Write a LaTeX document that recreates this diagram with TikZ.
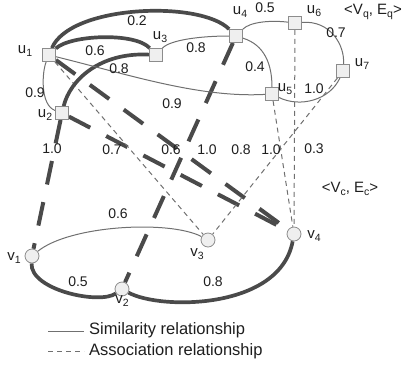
\documentclass[tikz,border=0pt]{standalone}
\usepackage{fontspec}
\setmainfont{Liberation Sans}
\definecolor{thk}{HTML}{4A4A4A}
\definecolor{thn}{HTML}{707070}
\definecolor{txt}{HTML}{1E1E1E}
\definecolor{nodeln}{HTML}{8C8C8C}
\definecolor{nodefl}{HTML}{EFEFEF}
\newcommand{\mysub}[1]{\raisebox{-0.4ex}{\fontsize{10.5}{11}\selectfont #1}}
\pgfdeclarelayer{edges}
\pgfsetlayers{edges,main}
\tikzset{
  sq/.style={draw=nodeln, fill=nodefl, minimum size=13pt, inner sep=0pt, line width=0.8pt},
  cir/.style={circle, draw=nodeln, fill=nodefl, minimum size=14pt, inner sep=0pt, line width=0.8pt},
  simthick/.style={draw=thk, line width=3.7pt},
  simthin/.style={draw=thn, line width=1pt},
  asthick/.style={draw=thk, line width=4pt, dash pattern=on 24pt off 18pt},
  asthin/.style={draw=thn, line width=1pt, dash pattern=on 5pt off 4pt},
  num/.style={font=\fontsize{14}{15}\selectfont, text=txt, inner sep=0pt},
  lab/.style={font=\fontsize{15}{16}\selectfont, text=txt, inner sep=0pt},
  leg/.style={font=\fontsize{16.5}{17}\selectfont, text=txt, inner sep=0pt, anchor=west}
}
\begin{document}
\begin{tikzpicture}[x=1pt, y=-1pt]
\useasboundingbox (0,0) rectangle (406,365);
% query graph nodes
\node[sq] (u1) at (49,55) {};
\node[sq] (u2) at (62,113) {};
\node[sq] (u3) at (156,55) {};
\node[sq] (u4) at (236,36) {};
\node[sq] (u5) at (272,94) {};
\node[sq] (u6) at (295,23) {};
\node[sq] (u7) at (343,71) {};
% candidate graph nodes
\node[cir] (v1) at (32,256) {};
\node[cir] (v2) at (122,289) {};
\node[cir] (v3) at (208,240) {};
\node[cir] (v4) at (294,234) {};

\begin{pgfonlayer}{edges}
% association edges
\draw[asthick] (u2) -- (v1);
\draw[asthick] (u1) -- (v4);
\draw[asthick] (u2) -- (v4);
\draw[asthick] (u4) -- (v2);
\draw[asthin] (u1) -- (v3);
\draw[asthin] (u7) -- (v3);
\draw[asthin] (u5) -- (v4);
\draw[asthin] (u6) -- (v4);
% similarity edges in query graph
\draw[simthick] (u1) .. controls (70,5) and (200,0) .. (u4);
\draw[simthick] (u1) .. controls (70,35) and (135,32) .. (u3);
\draw[simthick] (u2) .. controls (70,80) and (100,52) .. (u3);
\draw[simthin] (u1) .. controls (42,72) and (40,105) .. (u2);
\draw[simthin] (u1) .. controls (130,75) and (200,98) .. (u5);
\draw[simthin] (u3) .. controls (170,40) and (200,36) .. (u4);
\draw[simthin] (u4) .. controls (250,22) and (270,20) .. (u6);
\draw[simthin] (u6) .. controls (330,20) and (345,45) .. (u7);
\draw[simthin] (u4) .. controls (265,45) and (272,65) .. (u5);
\draw[simthin] (u5) .. controls (300,108) and (330,100) .. (u7);
% similarity edges in candidate graph
\draw[simthin] (v1) .. controls (70,225) and (170,220) .. (v3);
\draw[simthick] (v1) .. controls (30,290) and (100,305) .. (v2);
\draw[simthick] (v2) .. controls (160,310) and (280,310) .. (v4);
\end{pgfonlayer}

% node labels
\node[lab] (lu1) at (25,51) {u\mysub{1}};
\node[lab] (lu2) at (45,115) {u\mysub{2}};
\node[lab] (lu3) at (160,37) {u\mysub{3}};
\node[lab] (lu4) at (240,12) {u\mysub{4}};
\node[lab] (lu5) at (285,89) {u\mysub{5}};
\node[lab] (lu6) at (314,11) {u\mysub{6}};
\node[lab] (lu7) at (362,64) {u\mysub{7}};
\node[lab] (lv1) at (14,258) {v\mysub{1}};
\node[lab] (lv2) at (122,301) {v\mysub{2}};
\node[lab] (lv3) at (197,254) {v\mysub{3}};
\node[lab] (lv4) at (314,236) {v\mysub{4}};
\node[lab] (gq) at (373,12) {<V\mysub{q}, E\mysub{q}>};
\node[lab] (gc) at (350,189) {<V\mysub{c}, E\mysub{c}>};

% weights
\node[num] (w1) at (137,21) {0.2};
\node[num] (w2) at (95,51) {0.6};
\node[num] (w3) at (119,69) {0.8};
\node[num] (w4) at (35,93) {0.9};
\node[num] (w5) at (172,104) {0.9};
\node[num] (w6) at (196,48) {0.8};
\node[num] (w7) at (265,8) {0.5};
\node[num] (w8) at (336,33) {0.7};
\node[num] (w9) at (255,67) {0.4};
\node[num] (w10) at (314,89) {1.0};
\node[num] (a1) at (52,149) {1.0};
\node[num] (a2) at (112,150) {0.7};
\node[num] (a3) at (171,150) {0.6};
\node[num] (a4) at (207,150) {1.0};
\node[num] (a5) at (241,150) {0.8};
\node[num] (a6) at (271,150) {1.0};
\node[num] (a7) at (314,149) {0.3};
\node[num] (c1) at (118,214) {0.6};
\node[num] (c2) at (78,282) {0.5};
\node[num] (c3) at (213,282) {0.8};

% legend
\coordinate (ls1) at (48,331);
\coordinate (ls2) at (84,331);
\coordinate (la1) at (48,351);
\coordinate (la2) at (84,351);
\draw[simthin] (ls1) -- (ls2);
\draw[asthin] (la1) -- (la2);
\node[leg] (lt1) at (89,330) {Similarity relationship};
\node[leg] (lt2) at (89,351) {Association relationship};
\end{tikzpicture}
\end{document}
